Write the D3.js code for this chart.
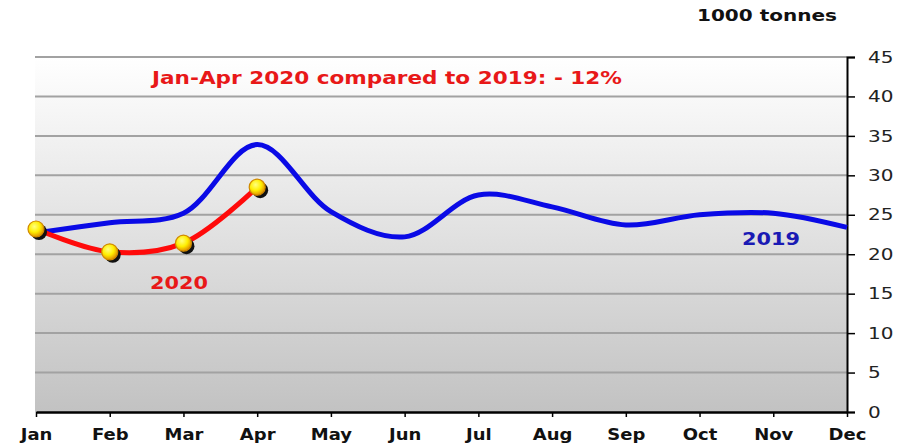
<!DOCTYPE html>
<html><head><meta charset="utf-8">
<script src="https://cdn.jsdelivr.net/npm/d3@7"></script>
<style>body{margin:0;background:#fff}svg{display:block}</style>
</head><body>
<svg id="c" width="913" height="448"></svg>
<script>
const months = ["Jan","Feb","Mar","Apr","May","Jun","Jul","Aug","Sep","Oct","Nov","Dec"];
const values2019 = [22.7,24.0,25.2,33.9,25.4,22.2,27.5,26.0,23.7,25.0,25.2,23.4];
const values2020 = [23.2,20.3,21.4,28.5];
const yTicks = [0,5,10,15,20,25,30,35,40,45];
const unitLabel = "1000 tonnes";
const noteText = "Jan-Apr 2020 compared to 2019: - 12%";

const svg = d3.select("#c");
const mLeft = 36, mRight = 847, mTop = 57, mBottom = 412;
const x = d3.scalePoint().domain(months).range([mLeft, mRight]);
const y = d3.scaleLinear().domain([0,45]).range([mBottom, mTop]);
const font = "'DejaVu Sans', Verdana, sans-serif";

const defs = svg.append("defs");
const bg = defs.append("linearGradient").attr("id","bg").attr("x1",0).attr("y1",0).attr("x2",0).attr("y2",1);
bg.append("stop").attr("offset","0%").attr("stop-color","#ffffff");
bg.append("stop").attr("offset","45%").attr("stop-color","#e4e4e4");
bg.append("stop").attr("offset","100%").attr("stop-color","#c2c2c2");
const mk = defs.append("radialGradient").attr("id","mk").attr("cx","40%").attr("cy","35%").attr("r","65%");
mk.append("stop").attr("offset","0%").attr("stop-color","#ffff80");
mk.append("stop").attr("offset","55%").attr("stop-color","#ffee00");
mk.append("stop").attr("offset","100%").attr("stop-color","#e09000");

svg.append("rect").attr("x",mLeft-1).attr("y",mTop).attr("width",mRight-mLeft+1).attr("height",mBottom-mTop).attr("fill","url(#bg)");

// gridlines
svg.append("g").selectAll("line").data(yTicks.filter(d=>d>0)).join("line")
  .attr("x1",mLeft-1).attr("x2",mRight).attr("y1",d=>y(d)).attr("y2",d=>y(d))
  .attr("stroke","#a2a2a2").attr("stroke-width",2);

// axes
const yAxis = d3.axisRight(y).tickValues(yTicks).tickSize(8).tickPadding(12);
const gy = svg.append("g").attr("transform",`translate(${mRight},0)`).call(yAxis);
gy.select(".domain").attr("stroke","#000").attr("stroke-width",2);
gy.selectAll(".tick line").attr("stroke","#000").attr("stroke-width",1.5);
gy.selectAll(".tick text").attr("font-family",font).attr("font-size",16).attr("fill","#222")
  .attr("x",21/1.25).attr("text-anchor","start").attr("transform","scale(1.25,1)");

const xAxis = d3.axisBottom(x).tickSize(5).tickPadding(12).tickSizeOuter(0);
const gx = svg.append("g").attr("transform",`translate(0,${mBottom})`).call(xAxis);
gx.select(".domain").attr("stroke","#000").attr("stroke-width",2.5);
gx.selectAll(".tick line").attr("stroke","#000").attr("stroke-width",1.5);
gx.selectAll(".tick text").attr("font-family",font).attr("font-size",15).attr("font-weight","bold").attr("fill","#111")
  .attr("transform","scale(1.2,1)");

// lines
const line = d3.line().x((d,i)=>x(months[i])).y(d=>y(d)).curve(d3.curveCatmullRom.alpha(0.5));
svg.append("path").datum(values2019).attr("d",line).attr("fill","none")
  .attr("stroke","#0a0ae6").attr("stroke-width",5).attr("stroke-linejoin","round");
svg.append("path").datum(values2020).attr("d",line).attr("fill","none")
  .attr("stroke","#ff0a0a").attr("stroke-width",5).attr("stroke-linejoin","round");

// markers
const mg = svg.append("g");
mg.selectAll("circle.sh").data(values2020).join("circle").attr("class","sh")
  .attr("cx",(d,i)=>x(months[i])+3).attr("cy",d=>y(d)+3).attr("r",8).attr("fill","#111");
mg.selectAll("circle.m").data(values2020).join("circle").attr("class","m")
  .attr("cx",(d,i)=>x(months[i])).attr("cy",d=>y(d)).attr("r",8)
  .attr("fill","url(#mk)").attr("stroke","#d08a00").attr("stroke-width",1.2);

// text
svg.append("text").attr("x",387).attr("y",84).attr("text-anchor","middle")
  .attr("font-family",font).attr("font-size",17).attr("font-weight","bold").attr("fill","#e81818")
  .attr("textLength",470).attr("lengthAdjust","spacingAndGlyphs").text(noteText);
svg.append("text").attr("x",179).attr("y",289).attr("text-anchor","middle")
  .attr("font-family",font).attr("font-size",17).attr("font-weight","bold").attr("fill","#e81818")
  .attr("textLength",58).attr("lengthAdjust","spacingAndGlyphs").text("2020");
svg.append("text").attr("x",771).attr("y",245).attr("text-anchor","middle")
  .attr("font-family",font).attr("font-size",17).attr("font-weight","bold").attr("fill","#1a1ab4")
  .attr("textLength",58).attr("lengthAdjust","spacingAndGlyphs").text("2019");
svg.append("text").attr("x",767).attr("y",21).attr("text-anchor","middle")
  .attr("font-family",font).attr("font-size",15).attr("font-weight","bold").attr("fill","#111")
  .attr("textLength",140).attr("lengthAdjust","spacingAndGlyphs").text(unitLabel);
</script>
</body></html>
